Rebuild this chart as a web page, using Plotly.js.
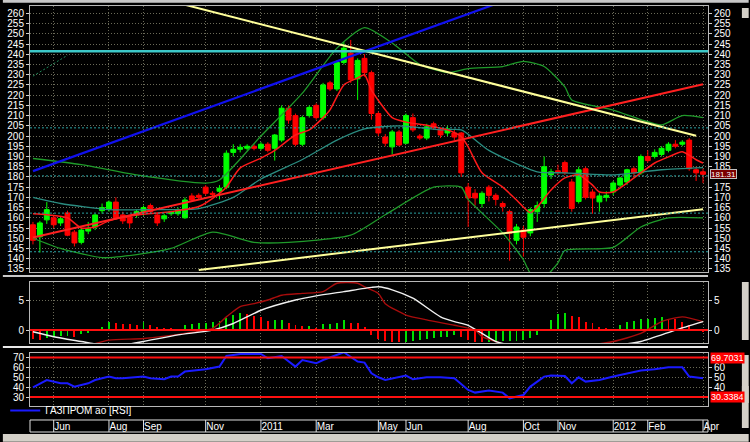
<!DOCTYPE html>
<html><head><meta charset="utf-8">
<script src="https://cdn.plot.ly/plotly-3.0.1.min.js"></script>
<style>html,body{margin:0;padding:0;background:#000;}#chart{width:750px;height:442px;}</style>
</head><body><div id="chart"></div>
<script>
// ---- weekly candles (ГАЗПРОМ ао) ----
const weeks = ["2010-05-10","2010-05-17","2010-05-24","2010-05-31","2010-06-07","2010-06-14","2010-06-21","2010-06-28","2010-07-05","2010-07-12","2010-07-19","2010-07-26","2010-08-02","2010-08-09","2010-08-16","2010-08-23","2010-08-30","2010-09-06","2010-09-13","2010-09-20","2010-09-27","2010-10-04","2010-10-11","2010-10-18","2010-10-25","2010-11-01","2010-11-08","2010-11-15","2010-11-22","2010-11-29","2010-12-06","2010-12-13","2010-12-20","2010-12-27",
"2011-01-10","2011-01-17","2011-01-24","2011-01-31","2011-02-07","2011-02-14","2011-02-21","2011-02-28","2011-03-07","2011-03-14","2011-03-21","2011-03-28","2011-04-04","2011-04-11","2011-04-18","2011-04-25","2011-05-02","2011-05-09","2011-05-16","2011-05-23","2011-05-30","2011-06-06","2011-06-13","2011-06-20","2011-06-27","2011-07-04","2011-07-11","2011-07-18","2011-07-25","2011-08-01","2011-08-08","2011-08-15","2011-08-22","2011-08-29","2011-09-05","2011-09-12","2011-09-19","2011-09-26","2011-10-03","2011-10-10","2011-10-17","2011-10-24","2011-10-31","2011-11-07","2011-11-14","2011-11-21","2011-11-28","2011-12-05","2011-12-12","2011-12-19","2011-12-26",
"2012-01-09","2012-01-16","2012-01-23","2012-01-30","2012-02-06","2012-02-13","2012-02-20","2012-02-27","2012-03-05","2012-03-12","2012-03-19","2012-03-26","2012-04-02"];
const openP = [156.6,150.7,159,160,157.5,162.4,153,148,153.5,155.5,163.5,164.3,167.7,161.4,160.4,161.4,163,166,161.4,159.5,162,162,160,170.7,171,175,172,173,175,192,193.5,194,195,194,196,194,198,213.6,210,196,210,215,209,226,223,236,240.5,228,238,231,211,199.5,194.7,202,196.5,209,200,199,206,203,201.5,201.5,201.5,175,172,167,175,171,167,163,149,154,152.6,163,167,181,183,187,177.5,168,184,172.6,167.8,170,172.6,176,177.5,184,182,190,190,191,193,196,196,198,183.5,182.5];
const highP = [158,158.5,167.7,161,160.5,163.5,154,155,158,162,167,168.5,170,163,161,164,166,167,162.5,162,163.5,165,170,172,172,176,173,176,193,196,196,196,196,197,197,201,215,215,211,210,215,216,226,227,237,246,247,238,240,232,212,201,203,203,211,211,201,206,207,204,205,203,202,177,174,173,176,172,168,164,157,156,165,168,190,184,186,188,179,185,185,174,172,173,178,180,184,185,191,193,193.5,195,197,198,198,199,185,184];
const lowP = [147,143,157,155,156,151,146,147,152,154,162,163,159,157,155,160,161,162,156,158,161,161,159.5,168,169,171,170.5,169,174,190,192,193,193,193,192,188,197,206,195,195,209,208,208,222,222,235,226,217.6,229,208,200,195,191,195,196,202,198,198,203,199,200,198,180,155.5,166,165,168,166,163,139,147,141,151,158,165,179,181,181,163,167,169,162,163,168,171,175,176,180,181,187,189,190,192,194,195,183,178,177];
const closeP = [149,157.5,164,156.6,159.5,151.5,147.7,154,154.5,161.4,165,167.7,160,158.5,157.5,163,165,163,157.5,161,163,164,168.7,168.7,170,172,171.5,174.5,191.6,193.5,194.5,195,194,196,193,200.5,213.6,207.8,196,209,214,209,225,223,236,243,227.5,237,231,211,201.5,196.5,202,195.6,210,203,199,204.5,204,200.5,203.5,199.5,182,169.7,169.7,172,171,169,165.5,152.5,155.5,150.5,164,166,185,182.5,182.5,182,164.6,183.5,170,169.7,170.7,171,177,179.5,183.5,182,190,188,192,194,196,195,197,184,182,181.3];
const lastPriceLabel = "181.31";

// ---- indicator readings (candle number -> value) ----
const fastMaK = [1,3,6,8,10,12,16,21,25,28,29,31,34,36,39,41,43,44,46,48,49,50,53,55,58,61,63,64,66,69,71,73,74,76,78,80,82,83,85,87,89,91,93,95,97,98];
const fastMaV = [162,161.5,160,155,155.5,158.5,161.4,163,165.5,172,175,184.4,189.2,193,200.5,203,209,212.8,225,228.4,230,222.5,209,206.8,205.3,203,199.7,194.7,182,175,168.7,162.5,165.3,173.6,179.5,181,176,172.6,172.6,177,182,186.8,189.8,192.3,188.4,186.8];
const midBandK = [1,5,12,18,25,30,34,40,45,49,54,60,63,67,74,78,85,92,98];
const midBandV = [170,167,164,164,164.5,170,179,188.5,198,203.5,205,203,203,193,182.5,182,181,183.5,184.5];
const upBandK = [1,8,16,26,28,34,40,45,49,53,57,61,64,69,72,75,78,79,85,89,92,95,98];
const upBandV = [189,186,181,177,178.5,200,221,243,253,245.5,235,231,233,234,236.5,234,224,217.6,212.7,208,205.4,210,209];
const loBandK = [1,5,11,16,21,27,33,38,47,52,59,63,64,69,72,73,75,77,78,85,89,93,98];
const loBandV = [150,145,140.5,142,145,153,148,148,151.5,161.5,175,175,169,152.6,139.5,133,131,138,144,145.5,155.5,160,160];

// drawn trend lines: [candle number, value] pairs
const yellowDownK = [23,97], yellowDownV = [264.2,200.1];
const yellowUpK = [25,98], yellowUpV = [134.45,164.2];
const blueUpK = [1,68], blueUpV = [182.85,264.6];
const redUpK = [1,98], redUpV = [150.4,225.3];
const greenDotK = [1,6], greenDotV = [229.3,239.5];
const cyanLevel = [241.5];
const dottedLevels = [204, 180.5, 162.3, 143.4];

// MACD
const macdHist = [-1.55,-1.7,-1.4,-1.2,-1.0,-0.95,-1.2,-0.7,-0.55,-0.1,
0.55,1.3,1.1,1.0,0.95,0.9,1.4,0.8,0.55,0.4,
0.3,0.15,0.8,0.95,1.1,1.2,1.4,1.55,1.95,2.5,
2.8,2.75,2.3,2.1,1.5,1.7,1.75,1.2,0.8,0.65,
0.7,0.3,0.95,1.0,1.2,1.7,1.2,1.1,0.55,-0.8,
-1.5,-1.8,-1.9,-2.0,-1.9,-1.85,-1.6,-1.55,-1.4,-1.2,
-1.1,-0.8,-1.2,-1.7,-1.9,-2.0,-1.95,-1.9,-1.85,-1.8,
-1.75,-1.6,-1.4,-0.8,0.2,1.7,2.6,2.8,2.3,2.1,
1.4,1.1,0.55,0.3,0.15,0.8,1.4,1.5,1.8,1.9,
1.95,2.1,1.9,1.8,1.4,0.8,0.1,-0.3];
const macdLineK = [1,8,12,17,23,27,29,31,33,35,37,40,43,45,48,49,51,52,55,58,62,65,66,68,72,78,85,89,92,95,98];
const macdLineV = [-3,-2.8,-1.67,-1.4,-0.55,0.28,2.2,3.9,4.4,5.0,5.8,6.1,6.4,7.8,7.8,7.2,6.1,4.4,2.5,1.7,0.8,0,-1.1,-1.9,-3.5,-3,-1.9,-0.55,1.4,2.2,1.4];
const signalK = [1,4,8,11,14,17,22,27,30,34,39,42,46,50,51,53,56,60,62,64,66,68,75,82,89,94,98];
const signalV = [-0.28,-1.1,-1.9,-2.5,-2.5,-1.9,-0.8,0,1.1,3.3,5.0,5.7,6.4,7.1,7.2,6.7,5.3,2.2,1.4,0.8,-0.55,-1.9,-3.5,-3,-1.9,0,1.4];

// RSI
const rsiK = [1,2,3,5,6,7,9,10,12,13,14,17,18,20,21,22,23,26,28,29,31,34,35,37,39,40,42,43,45,46,48,49,50,51,52,53,55,56,58,60,62,64,65,67,69,70,72,73,75,76,78,79,80,81,83,85,87,89,91,93,95,96,98];
const rsiV = [40,44,47.3,44,44,40.7,44,47.3,50.7,49,49,50.7,49,48,50.7,50.7,55.7,58,60.7,71.3,73.3,73.3,69,71.3,60.7,67.3,64,67.3,72,75,65.7,64.7,54,50,47.3,49,51.7,48,50,50,49,37.3,34.7,36.7,34.7,29,32.3,40.7,50.7,51.7,51.3,44,50,45.7,47.3,50.7,54,56.7,58,60,60,50.7,49];
const rsiLevels = [69.7031, 30.3384];
const rsiName = "ГАЗПРОМ ао [RSI]";

// axis ticks
const tickDates = ["2010-05-31","2010-07-26","2010-08-30","2010-11-01","2010-12-27","2011-02-28","2011-05-02","2011-05-30","2011-08-01","2011-09-26","2011-10-31","2011-12-26","2012-02-06","2012-04-02"];
const tickText = ["Jun","Aug","Sep","Nov","2011","Mar","May","Jun","Aug","Oct","Nov","2012","Feb","Apr"];
const priceTicks = [135,140,145,150,155,160,165,170,175,180,185,190,195,200,205,210,215,220,225,230,235,240,245,250,255,260];
const priceTicksRight = [135,140,145,150,155,160,165,170,175,185,190,195,200,205,210,215,220,225,230,235,240,245,250,255,260];
const macdTicks = [0,5];
const rsiTicksLeft = [30,40,50,60,70];
const rsiTicksRight = [40,50,60];

// ---------------- build ----------------
const toX = ks => ks.map(k => weeks[k-1]);
const FONT = 'Liberation Sans, Arial, sans-serif';
const tf = {family:FONT, size:10, color:'#ffffff'};
const gridCol = '#6a6a58', gridDash = '1px,2px', frameCol = '#b8b8b8';
const line = (ks, vs, color, width, yaxis, extra) => Object.assign({
  type:'scatter', mode:'lines', x:toX(ks), y:vs, xaxis:'x', yaxis:yaxis||'y',
  line:{color:color, width:width}, hoverinfo:'skip', showlegend:false}, extra||{});

const histColors = macdHist.map((v,i) => (i>0 && v >= macdHist[i-1]) ? '#00e000' : '#ff0000');

const traces = [
  {type:'candlestick', x:weeks, open:openP, high:highP, low:lowP, close:closeP, xaxis:'x', yaxis:'y',
   increasing:{line:{color:'#00ff00',width:1}, fillcolor:'#00ff00'},
   decreasing:{line:{color:'#ff0000',width:1}, fillcolor:'#ff0000'},
   whiskerwidth:0, hoverinfo:'skip', showlegend:false},
  line(upBandK, upBandV, '#1f9a2a', 1.3, 'y', {line:{color:'#1f9a2a',width:1.3,shape:'spline',smoothing:0.6}}),
  line(loBandK, loBandV, '#1f9a2a', 1.3, 'y', {line:{color:'#1f9a2a',width:1.3,shape:'spline',smoothing:0.6}}),
  line(midBandK, midBandV, '#2a8c80', 1.3, 'y', {line:{color:'#2a8c80',width:1.3,shape:'spline',smoothing:0.6}}),
  line(fastMaK, fastMaV, '#ff1a1a', 1.5, 'y', {line:{color:'#ff1a1a',width:1.5,shape:'spline',smoothing:0.6}}),
  line(redUpK, redUpV, '#ff2020', 2, 'y5'),
  line(blueUpK, blueUpV, '#1010ee', 2.2, 'y5'),
  line(yellowDownK, yellowDownV, '#ffff9a', 2, 'y5'),
  line(yellowUpK, yellowUpV, '#ffff9a', 2, 'y5'),
  line(greenDotK, greenDotV, '#1e8a5a', 1, 'y5', {line:{color:'#1e8a5a',width:1,dash:'2px,2px'}}),
  // MACD
  {type:'bar', x:weeks, y:macdHist, xaxis:'x', yaxis:'y2', width:0.28,
   marker:{color:histColors, line:{width:0}}, hoverinfo:'skip', showlegend:false},
  line(macdLineK, macdLineV, '#a80c0c', 1.4, 'y2', {line:{color:'#a80c0c',width:1.4,shape:'spline',smoothing:0.6}}),
  line(signalK, signalV, '#f0f0f0', 1.4, 'y6', {line:{color:'#f0f0f0',width:1.4,shape:'spline',smoothing:0.6}}),
  // RSI
  line(rsiK, rsiV, '#1a1aff', 2, 'y7', {name:rsiName, showlegend:true}),
];

const dMain = [0.3756, 1], dMacd = [0.2082, 0.3528], dRsi = [0.0610, 0.1862];
const rMain = [133.5, 263.6], rMacd = [-2.2, 8.05], rRsi = [21.3, 74.6];
const yBase = (domain, range, vals) => ({domain:domain, range:range, tickmode:'array', tickvals:vals,
  tickfont:tf, ticks:'outside', ticklen:3, tickcolor:'#d0d0d0', showgrid:true, gridcolor:gridCol,
  griddash:gridDash, zeroline:false, showline:true, mirror:true, linecolor:frameCol, linewidth:1, fixedrange:true});
const yOver = (over, range, vals) => ({overlaying:over, side:'right', range:range, tickmode:'array', tickvals:vals,
  tickfont:tf, ticks:'outside', ticklen:3, tickcolor:'#d0d0d0', showgrid:false, zeroline:false, showline:false, fixedrange:true});

const nCat = weeks.length;
const shapes = [];
cyanLevel.forEach(v => shapes.push({type:'line', xref:'paper', x0:0, x1:1, yref:'y', y0:v, y1:v, line:{color:'#3cc8c8', width:2.5}}));
dottedLevels.forEach(v => shapes.push({type:'line', xref:'paper', x0:0, x1:1, yref:'y', y0:v, y1:v, line:{color:'#2aa0a0', width:1, dash:'2px,2px'}}));
shapes.push({type:'line', xref:'paper', x0:0, x1:1, yref:'y2', y0:0, y1:0, line:{color:'#ff1010', width:2}});
rsiLevels.forEach(v => shapes.push({type:'line', xref:'paper', x0:0, x1:1, yref:'y3', y0:v, y1:v, line:{color:'#ff1010', width:2}}));
// date row box and separators
shapes.push({type:'rect', xref:'paper', x0:0, x1:1, yref:'paper', y0:0, y1:0.0282, line:{color:'#e0e0e0', width:1}});
tickDates.forEach(d => { const i = weeks.indexOf(d);
  shapes.push({type:'line', xref:'x', x0:i, x1:i, yref:'paper', y0:0, y1:0.0282, line:{color:'#e0e0e0', width:1}}); });
// window chrome (frame, separators, scroll strips)
const chrome = '#d4d0c8';
shapes.push({type:'rect', xref:'paper', x0:-0.04, x1:1.06, yref:'paper', y0:1.0075, y1:1.014, fillcolor:'#c8c8c8', line:{width:0}});
shapes.push({type:'line', xref:'paper', x0:-0.04, x1:1.0, yref:'paper', y0:0.3662, y1:0.3662, line:{color:'#c8c8c8', width:2}});
shapes.push({type:'line', xref:'paper', x0:-0.04, x1:1.0, yref:'paper', y0:0.1995, y1:0.1995, line:{color:'#e8e8e8', width:2}});
shapes.push({type:'rect', xref:'paper', x0:-0.04, x1:1.06, yref:'paper', y0:-0.023, y1:-0.0047, fillcolor:chrome, line:{width:0}});
[[0.9718,0.9953],[0.0094,0.1080],[0.2160,0.3521],[0.0681,0.1808]].forEach(r =>
  shapes.push({type:'rect', xref:'paper', x0:1.0500, x1:1.06, yref:'paper', y0:r[0], y1:r[1], fillcolor:chrome, line:{width:0}}));

const annotations = [
  {xref:'paper', x:1.003, xanchor:'left', yref:'y', y:closeP[closeP.length-1], text:lastPriceLabel, showarrow:false,
   font:{family:FONT, size:8, color:'#ffffff'}, bgcolor:'#7a0000', bordercolor:'#c0c0c0', borderwidth:1, borderpad:0, height:8},
  {xref:'paper', x:1.003, xanchor:'left', yref:'y3', y:rsiLevels[0], text:String(rsiLevels[0]), showarrow:false,
   font:{family:FONT, size:9, color:'#ffffff'}, bgcolor:'#ff0000', borderpad:0, height:10},
  {xref:'paper', x:1.003, xanchor:'left', yref:'y3', y:rsiLevels[1], text:String(rsiLevels[1]), showarrow:false,
   font:{family:FONT, size:9, color:'#ffffff'}, bgcolor:'#ff0000', borderpad:0, height:10},
];

const layout = {
  width:750, height:442, paper_bgcolor:'#000000', plot_bgcolor:'#000000',
  margin:{l:29, r:42, t:6, b:10}, hovermode:false, dragmode:false,
  boxgap:0.28, boxgroupgap:0.02,
  showlegend:true,
  legend:{x:-0.035, y:0.0845, xanchor:'left', yanchor:'top', bgcolor:'rgba(0,0,0,0)', itemwidth:30,
    font:{family:FONT, size:10, color:'#ffffff'}},
  xaxis:{type:'category', categoryorder:'array', categoryarray:weeks, range:[-0.43, nCat-1+0.72], anchor:'y3',
    tickmode:'array', tickvals:tickDates, ticktext:tickText, tickangle:0,
    tickfont:tf, ticks:'', ticklabelposition:'outside right', ticklabelstandoff:11,
    showgrid:true, gridcolor:gridCol, griddash:gridDash, zeroline:false,
    showline:true, mirror:'all', linecolor:frameCol, rangeslider:{visible:false}, fixedrange:true},
  yaxis: yBase(dMain, rMain, priceTicks),
  yaxis2: yBase(dMacd, rMacd, macdTicks),
  yaxis3: yBase(dRsi, rRsi, rsiTicksLeft),
  yaxis5: yOver('y', rMain, priceTicksRight),
  yaxis6: yOver('y2', rMacd, macdTicks),
  yaxis7: yOver('y3', rRsi, rsiTicksRight),
  shapes:shapes, annotations:annotations, bargap:0
};
Plotly.newPlot('chart', traces, layout, {staticPlot:true, displayModeBar:false});
</script></body></html>
